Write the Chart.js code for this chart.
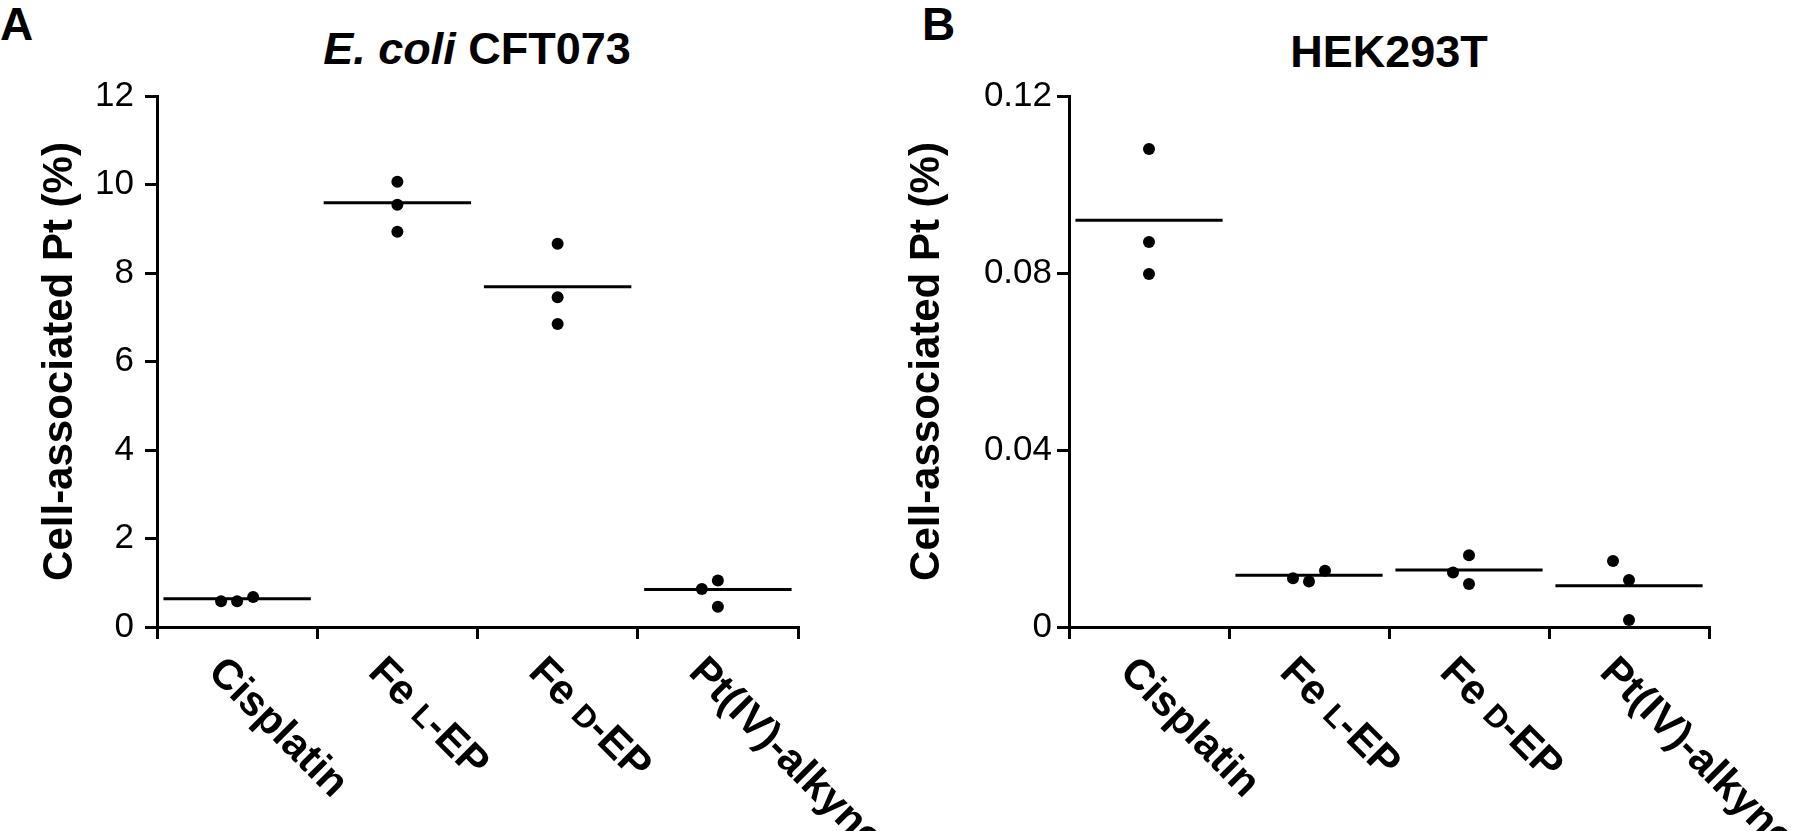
<!DOCTYPE html>
<html>
<head>
<meta charset="utf-8">
<title>Cell-associated Pt</title>
<script src="https://cdn.jsdelivr.net/npm/chart.js@4.4.0/dist/chart.umd.min.js"></script>
<style>
  body { margin: 0; background: #fff; width: 1800px; height: 831px; position: relative; overflow: hidden; font-family: "Liberation Sans", Arial, sans-serif; color: #000; }
  .panel { position: absolute; top: 0; height: 831px; }
  .letter { position: absolute; font-weight: bold; font-size: 46px; line-height: 1; }
  .title { position: absolute; font-weight: bold; font-size: 45px; line-height: 1; transform: translateX(-50%); white-space: nowrap; }
</style>
</head>
<body>
<div class="letter" style="left:0;top:1px">A</div>
<div class="letter" style="left:922px;top:1px">B</div>
<div class="title" style="left:477px;top:26px"><i>E. coli</i> CFT073</div>
<div class="title" style="left:1389px;top:29px">HEK293T</div>
<div class="panel" style="left:0;width:880px"><canvas id="chartA" width="880" height="831"></canvas></div>
<div class="panel" style="left:900px;width:900px"><canvas id="chartB" width="900" height="831"></canvas></div>
<script>
const categories = ['Cisplatin', 'Fe L-EP', 'Fe D-EP', 'Pt(IV)-alkyne'];

// panel A: E. coli CFT073, three replicates per compound
const ecoliValues = [
    [0.58, 0.58, 0.68],
    [10.06, 9.54, 8.93],
    [8.66, 7.45, 6.85],
    [0.86, 1.05, 0.46]
];
const ecoliJitter = [[-0.1, 0, 0.1], [0, 0, 0], [0, 0, 0], [-0.1, 0, 0]];
const ecoliMeans = [0.64, 9.59, 7.69, 0.85];
const ecoliTicks = [0, 2, 4, 6, 8, 10, 12];

// panel B: HEK293T
const hekValues = [
    [0.108, 0.087, 0.0798],
    [0.0110, 0.0103, 0.0127],
    [0.0123, 0.0162, 0.0097],
    [0.0149, 0.0106, 0.0016]
];
const hekJitter = [[0, 0, 0], [-0.1, 0, 0.1], [-0.1, 0, 0], [-0.1, 0, 0]];
const hekMeans = [0.0919, 0.0117, 0.0129, 0.0093];
const hekTicks = [0, 0.04, 0.08, 0.12];

const FONT = '"Liberation Sans", Arial, sans-serif';
const halfWidth = 0.46;

// "Fe L-EP" -> small capital L
function splitLabel(label) {
    const m = label.match(/^(.* )([A-Z])(-.*)$/);
    if (!m) return [{ text: label, small: false }];
    return [{ text: m[1], small: false }, { text: m[2], small: true }, { text: m[3], small: false }];
}

const slantedLabels = {
    id: 'slantedLabels',
    afterDraw(chart, args, opts) {
        const { ctx, chartArea } = chart;
        const x = chart.scales.x;
        ctx.save();
        ctx.fillStyle = '#000';
        ctx.textAlign = 'left';
        ctx.textBaseline = 'alphabetic';
        categories.forEach((label, i) => {
            ctx.save();
            ctx.translate(x.getPixelForValue(i) + opts.dx, chartArea.bottom + opts.dy);
            ctx.rotate(Math.PI / 4);
            let cx = 0;
            splitLabel(label).forEach(part => {
                const size = part.small ? opts.size * 0.74 : opts.size;
                ctx.font = `bold ${size}px ${FONT}`;
                ctx.fillText(part.text, cx, opts.size * 0.9);
                cx += ctx.measureText(part.text).width;
            });
            ctx.restore();
        });
        ctx.restore();
    }
};

function makeChart(id, values, jitter, means, yTicks, cfg) {
    const datasets = [];
    datasets.push({
        type: 'scatter',
        data: values.flatMap((vals, i) => vals.map((v, k) => ({ x: i + jitter[i][k], y: v }))),
        pointRadius: 6,
        pointBackgroundColor: '#000',
        pointBorderWidth: 0
    });
    means.forEach((m, i) => {
        datasets.push({
            type: 'scatter',
            showLine: true,
            data: [{ x: i - halfWidth, y: m }, { x: i + halfWidth, y: m }],
            borderColor: '#000',
            borderWidth: 3,
            pointRadius: 0
        });
    });

    const axisLine = { display: true, color: '#000', width: 3 };
    const tickMarks = { drawOnChartArea: false, drawTicks: true, tickLength: 12, color: '#000', lineWidth: 3 };

    return new Chart(document.getElementById(id), {
        type: 'scatter',
        data: { datasets },
        plugins: [slantedLabels],
        options: {
            responsive: false,
            animation: false,
            devicePixelRatio: 1,
            layout: { padding: { left: 0, top: 96, right: cfg.padRight, bottom: 184 } },
            scales: {
                x: {
                    type: 'linear',
                    min: -0.5,
                    max: categories.length - 0.5,
                    afterBuildTicks: s => {
                        s.ticks = categories.map((c, i) => ({ value: i - 0.5 }))
                            .concat([{ value: categories.length - 0.5 }]);
                    },
                    afterFit: s => { s.height = 20; },
                    border: axisLine,
                    grid: tickMarks,
                    ticks: { display: false }
                },
                y: {
                    min: 0,
                    max: yTicks[yTicks.length - 1],
                    afterBuildTicks: s => { s.ticks = yTicks.map(v => ({ value: v })); },
                    afterFit: s => { s.width = cfg.yWidth; },
                    border: axisLine,
                    grid: tickMarks,
                    ticks: {
                        color: '#000',
                        padding: cfg.tickPad,
                        font: { family: FONT, size: 35 },
                        callback: v => String(v)
                    },
                    title: {
                        display: true,
                        text: 'Cell-associated Pt (%)',
                        color: '#000',
                        font: { family: FONT, size: 42, weight: 'bold' },
                        padding: { top: cfg.titlePad, bottom: 0 }
                    }
                }
            },
            plugins: {
                legend: { display: false },
                tooltip: { enabled: false },
                slantedLabels: { dx: -4, dy: 20, size: 42 }
            }
        }
    });
}

makeChart('chartA', ecoliValues, ecoliJitter, ecoliMeans, ecoliTicks,
    { yWidth: 157, padRight: 82, tickPad: 11, titlePad: 35 });
makeChart('chartB', hekValues, hekJitter, hekMeans, hekTicks,
    { yWidth: 169, padRight: 91, tickPad: 5, titlePad: 2 });
</script>
</body>
</html>
